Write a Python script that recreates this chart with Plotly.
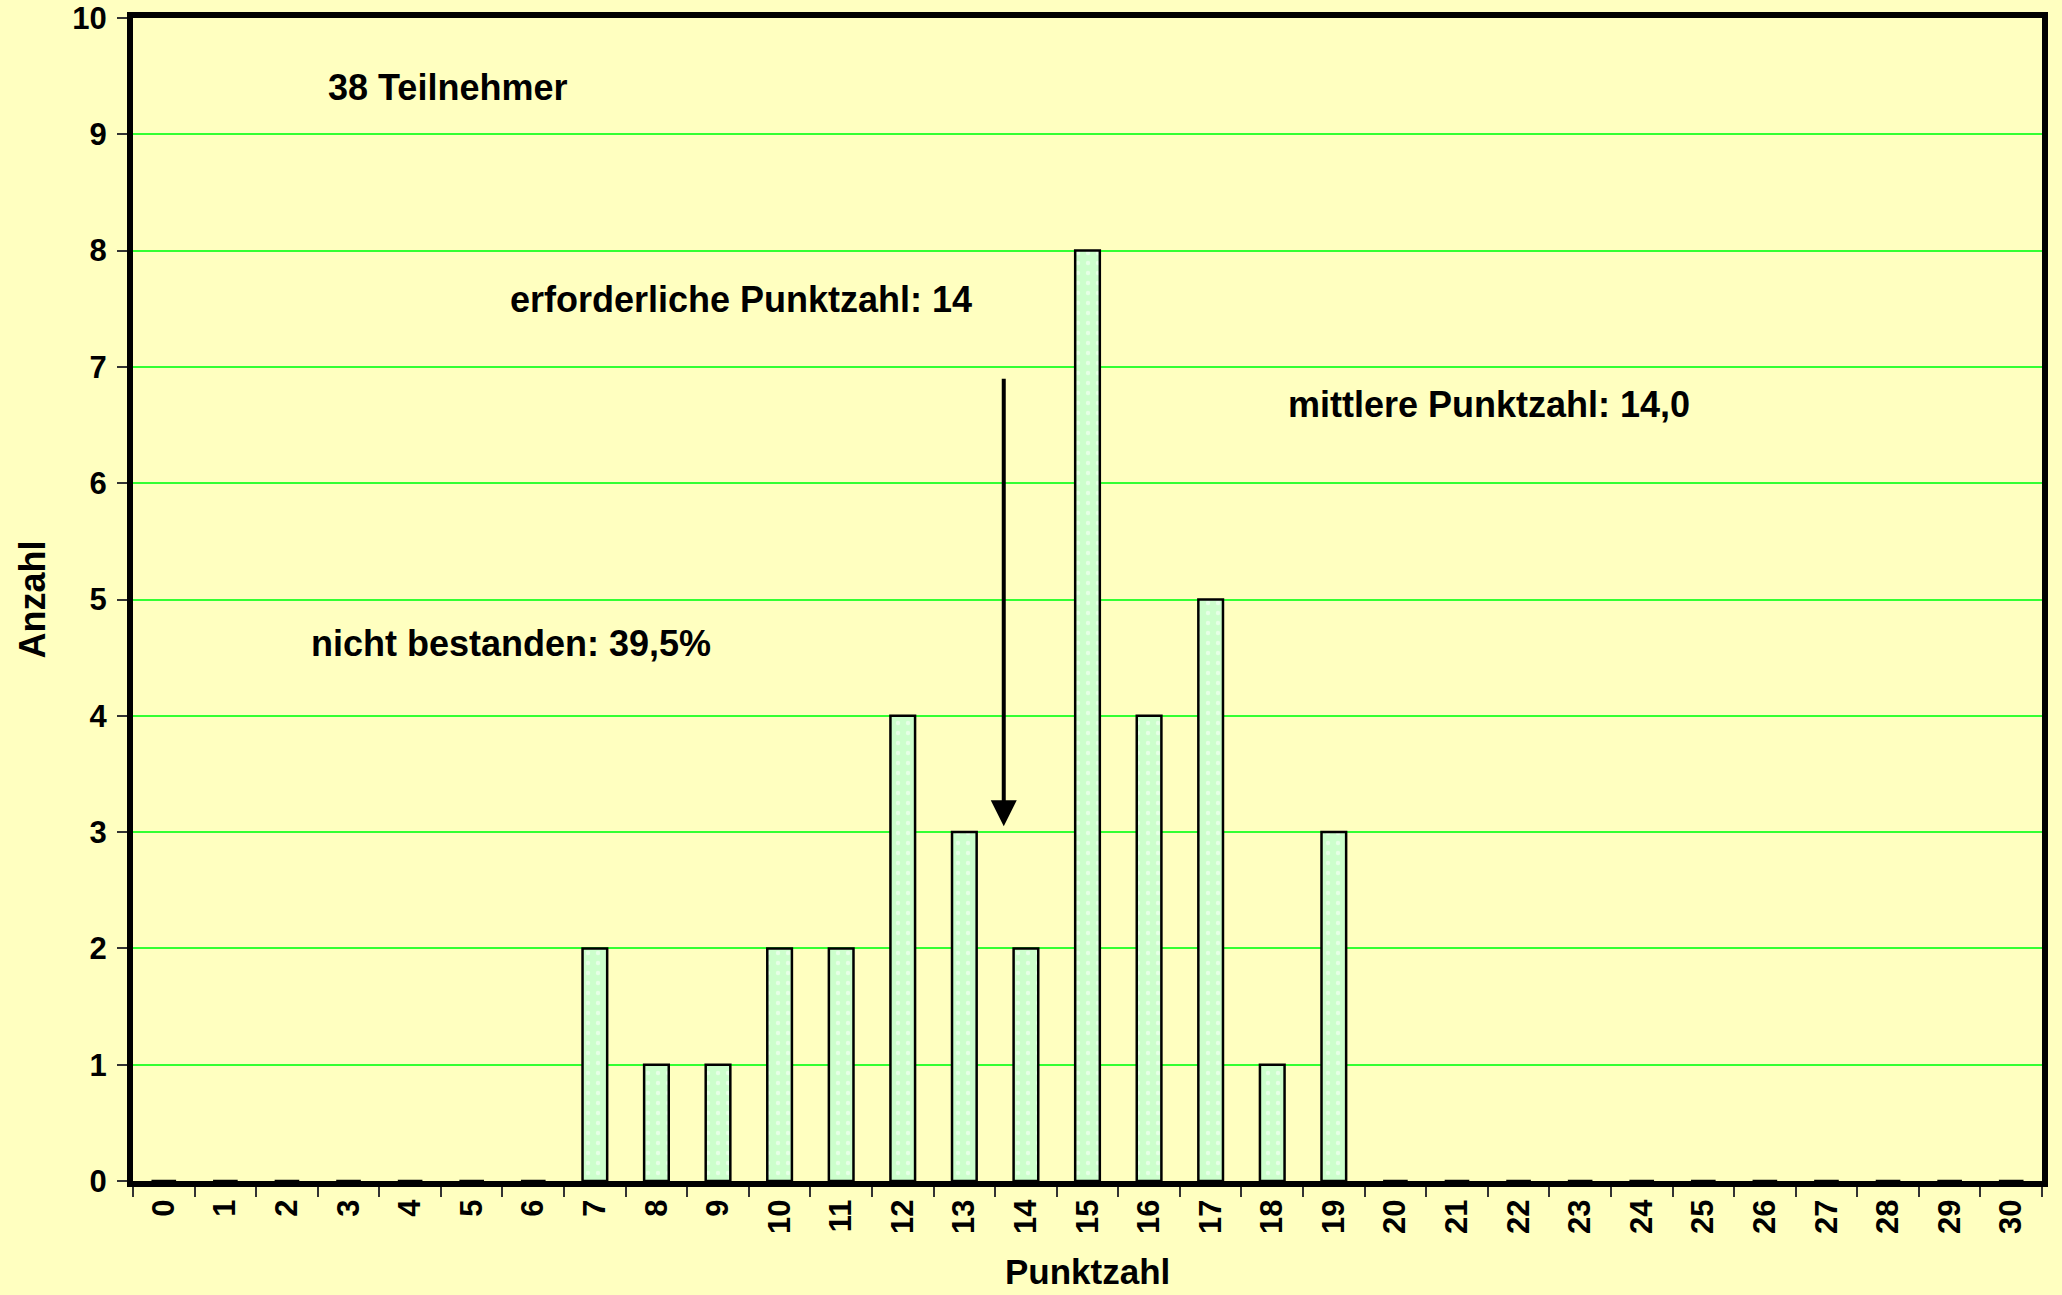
import plotly.graph_objects as go

punktzahl = [str(i) for i in range(31)]
anzahl = [0, 0, 0, 0, 0, 0, 0, 2, 1, 1, 2, 2, 4, 3, 2, 8, 4, 5, 1, 3,
          0, 0, 0, 0, 0, 0, 0, 0, 0, 0, 0]
y_ticks = list(range(11))

BG = "#FFFFC0"
FONT = "Liberation Sans"

fig = go.Figure()
fig.add_trace(go.Bar(
    x=punktzahl, y=anzahl, width=0.4,
    marker=dict(color="#CCFFCC", line=dict(color="black", width=2.5),
                pattern=dict(shape=".", bgcolor="#CCFFCC", fgcolor="white",
                             size=10, solidity=0.15)),
    hoverinfo="x+y",
))

ann_font = dict(family=FONT, size=36, color="black")
texts = [
    ("38 Teilnehmer", 2.63, 9.40),
    ("erforderliche Punktzahl: 14", 5.59, 7.58),
    ("mittlere Punktzahl: 14,0", 18.23, 6.68),
    ("nicht bestanden: 39,5%", 2.36, 4.62),
]
for t, x, y in texts:
    fig.add_annotation(x=x, y=y, xref="x", yref="y", text="<b>%s</b>" % t,
                       showarrow=False, xanchor="left", yanchor="middle",
                       font=ann_font)

fig.add_annotation(x=13.64, y=3.05, ax=13.64, ay=6.91, xref="x", yref="y",
                   axref="x", ayref="y", text="", showarrow=True,
                   arrowhead=2, arrowsize=1.3, arrowwidth=4, arrowcolor="black")

# axis titles
fig.add_annotation(x=-0.0524, y=0.5, xref="paper", yref="paper",
                   text="<b>Anzahl</b>", textangle=-90, showarrow=False,
                   xanchor="center", yanchor="middle",
                   font=dict(family=FONT, size=36, color="black"))
fig.add_annotation(x=0.5, y=-0.0775, xref="paper", yref="paper",
                   text="<b>Punktzahl</b>", showarrow=False,
                   xanchor="center", yanchor="middle",
                   font=dict(family=FONT, size=35, color="black"))

fig.update_layout(
    width=2062, height=1295,
    paper_bgcolor=BG, plot_bgcolor=BG,
    margin=dict(l=133, r=20, t=18, b=114, autoexpand=False),
    showlegend=False,
    bargap=0.6,
    font=dict(family=FONT, color="black"),
)
fig.update_xaxes(
    type="category", tickson="boundaries", range=[-0.5, 30.5],
    tickangle=-90, tickfont=dict(family=FONT, size=31, color="black"),
    tickprefix="<b>", ticksuffix="</b>",
    ticks="outside", ticklen=10, tickwidth=1.5, tickcolor="#333",
    showline=True, linewidth=6, linecolor="black", mirror=True,
    showgrid=False, automargin=False,
)
fig.update_yaxes(
    range=[0, 10], tickvals=y_ticks, ticktext=["<b>%d</b>" % v for v in y_ticks],
    tickfont=dict(family=FONT, size=31, color="black"),
    ticks="outside", ticklen=10, tickwidth=1.5, tickcolor="#333",
    ticklabelstandoff=4,
    showline=True, linewidth=6, linecolor="black", mirror=True,
    showgrid=True, gridcolor="#33FF33", gridwidth=1.5,
    zeroline=False, automargin=False,
)

fig.write_html("out.html", config={"displayModeBar": False},
               post_script="document.body.style.margin='0';"
                           "document.body.style.background='%s';" % BG)
